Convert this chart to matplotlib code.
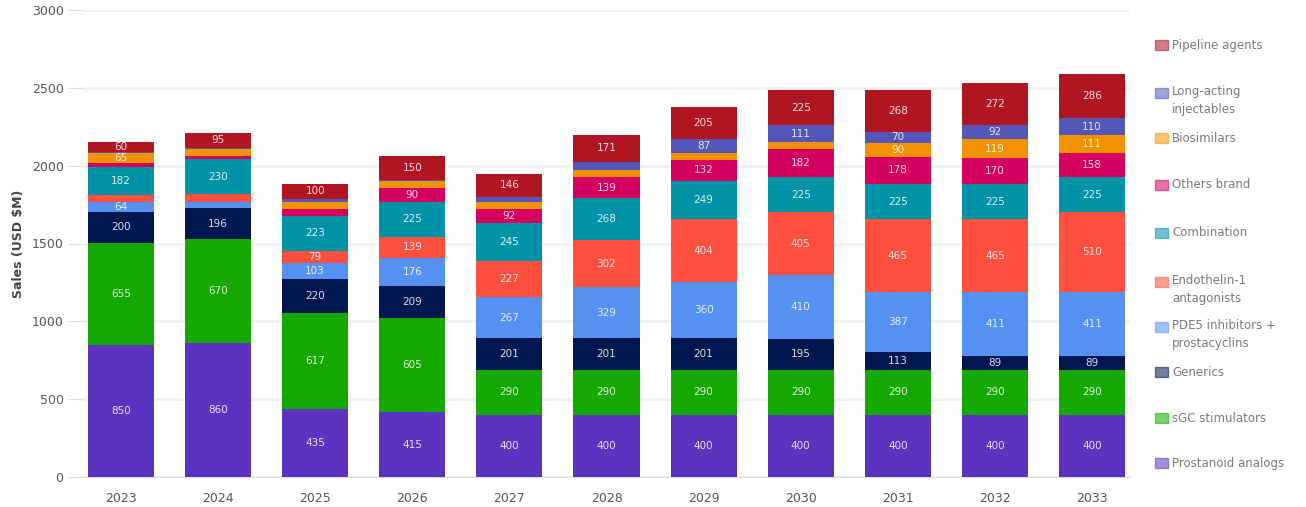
import numpy as np
import matplotlib.pyplot as plt
from matplotlib.patches import Rectangle

# stacked sales by segment, USD $M (bottom to top)
years = ['2023', '2024', '2025', '2026', '2027', '2028', '2029', '2030', '2031', '2032', '2033']

prostacyclin = [850, 860, 435, 415, 400, 400, 400, 400, 400, 400, 400]
sgc          = [655, 670, 617, 605, 290, 290, 290, 290, 290, 290, 290]
generics     = [200, 196, 220, 209, 201, 201, 201, 195, 113, 89, 89]
pde5         = [64, 43, 103, 176, 267, 329, 360, 410, 387, 411, 411]
era          = [43, 46, 79, 139, 227, 302, 404, 405, 465, 465, 510]
combination  = [182, 230, 223, 225, 245, 268, 249, 225, 225, 225, 225]
others       = [21, 15, 45, 90, 92, 139, 132, 182, 178, 170, 158]
biosimilars  = [65, 45, 47, 44, 42, 43, 47, 43, 90, 119, 111]
long_acting  = [10, 10, 16, 7, 36, 54, 87, 111, 70, 92, 110]
pipeline     = [60, 95, 100, 150, 146, 171, 205, 225, 268, 272, 286]

series = [prostacyclin, sgc, generics, pde5, era, combination, others, biosimilars, long_acting, pipeline]
names = ['Prostanoid analogs', 'sGC stimulators', 'Generics', 'PDE5 inhibitors +\nprostacyclins',
         'Endothelin-1\nantagonists', 'Combination', 'Others brand', 'Biosimilars',
         'Long-acting\ninjectables', 'Pipeline agents']
colors = ['#5C33BF', '#14A800', '#00174F', '#5591F2', '#FF4F3F',
          '#0093A8', '#D4005F', '#F39200', '#5257B8', '#B01522']

W, H = 1306, 507
fig = plt.figure(figsize=(W / 100, H / 100), dpi=100)
ax = fig.add_axes([83 / W, 30 / H, (1130 - 83) / W, (477 - 10) / H])

x = np.arange(len(years))
bottom = np.zeros(len(years))
for vals, c in zip(series, colors):
    vals = np.array(vals, dtype=float)
    ax.bar(x, vals, bottom=bottom, width=0.68, color=c, edgecolor='none', zorder=3)
    for xi, v, b in zip(x, vals, bottom):
        if v >= 60:
            ax.text(xi, b + v / 2, '%d' % v, ha='center', va='center',
                    fontsize=7.5, color='white', alpha=0.85, zorder=4)
    bottom += vals

ax.set_xlim(-0.39, len(years) - 1 + 0.39)
ax.set_ylim(0, 3000)
ax.set_yticks(range(0, 3001, 500))
ax.set_xticks(x)
ax.set_xticklabels(years)
ax.grid(axis='y', color='#F1F1F1', linewidth=2, zorder=0)
for s in ['top', 'right', 'left']:
    ax.spines[s].set_visible(False)
ax.spines['bottom'].set_color('#DDDDDD')
ax.tick_params(axis='y', length=11, color='#DDDDDD', labelcolor='#555555', labelsize=9, pad=3)
ax.tick_params(axis='x', length=0, labelcolor='#555555', labelsize=9, pad=11)
ax.set_ylabel('Sales (USD $M)', fontsize=9, fontweight='bold', color='#444444', labelpad=5)

# legend drawn by hand, top entry = top of the stack
ys = [45, 93, 138, 185, 233, 282, 327, 372, 418, 463]
for i, (nm, c) in enumerate(zip(names[::-1], colors[::-1])):
    yc = ys[i]
    fig.patches.append(Rectangle((1155 / W, 1 - (yc + 5) / H), 13 / W, 10 / H,
                                 transform=fig.transFigure, color=c, alpha=0.55))
    if '\n' in nm:
        fig.text(1172 / W, 1 - (yc - 8) / H, nm, fontsize=8.5, color='#7A7A7A',
                 va='top', ha='left', linespacing=1.5)
    else:
        fig.text(1172 / W, 1 - yc / H, nm, fontsize=8.5, color='#7A7A7A',
                 va='center', ha='left')

fig.savefig('out.png', dpi=100)
